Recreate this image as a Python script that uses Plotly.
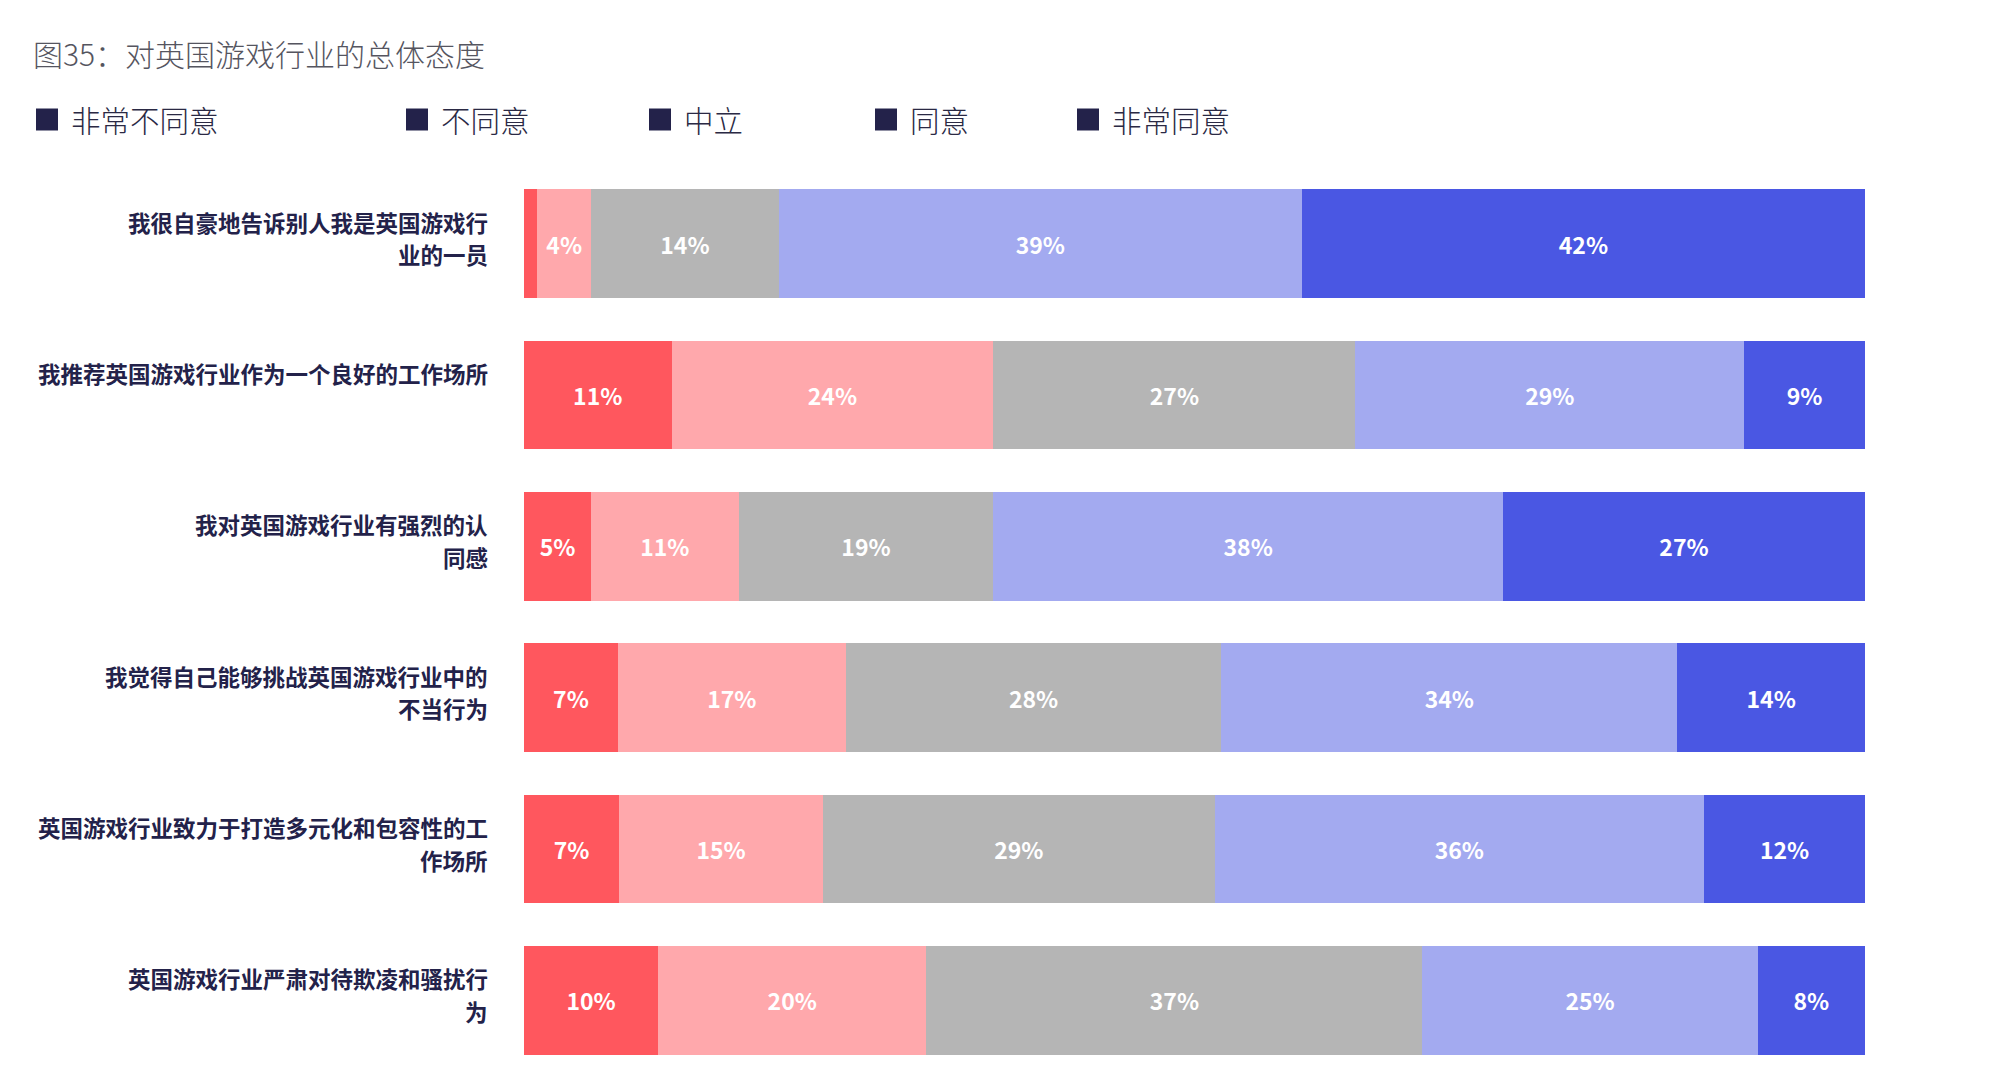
import plotly.graph_objects as go

# ---------------- data ----------------
categories = [
    "我很自豪地告诉别人我是英国游戏行\n业的一员",
    "我推荐英国游戏行业作为一个良好的工作场所",
    "我对英国游戏行业有强烈的认\n同感",
    "我觉得自己能够挑战英国游戏行业中的\n不当行为",
    "英国游戏行业致力于打造多元化和包容性的工\n作场所",
    "英国游戏行业严肃对待欺凌和骚扰行\n为",
]
series_names = ["非常不同意", "不同意", "中立", "同意", "非常同意"]
strongly_disagree = [1, 11, 5, 7, 7.1, 10]
disagree = [4, 24, 11, 17, 15.2, 20]
neutral = [14, 27, 19, 28, 29.2, 37]
agree = [39, 29, 38, 34, 36.5, 25]
strongly_agree = [42, 9, 27, 14, 12.0, 8]
series_values = [strongly_disagree, disagree, neutral, agree, strongly_agree]
title_text = "图35：对英国游戏行业的总体态度"

# ---------------- style ----------------
colors = ["#FF575E", "#FFA8AC", "#B5B5B5", "#A3AAF0", "#4A57E3"]
W, H = 2008, 1079
L, R, T, B = 524, 143, 168, 3
FONT = "Noto Sans CJK SC"
NAVY = "#23224A"


def px2x(px):
    return (px - L) / (W - L - R)


def py2y(py):
    return 1 - (py - T) / (H - T - B)


fig = go.Figure()
ys = list(range(len(categories)))
for name, vals, col in zip(series_names, series_values, colors):
    fig.add_trace(go.Bar(
        y=ys, x=vals, name=name, orientation="h",
        marker=dict(color=col, line=dict(width=0)),
        text=[f"{round(v)}%" if v >= 3 else "" for v in vals],
        textposition="inside", insidetextanchor="middle",
        textfont=dict(family=FONT, size=23, color="white", weight="bold"),
        hoverinfo="skip",
    ))

annotations = []
# category labels (per line)
for i, cat in enumerate(categories):
    lines = cat.split("\n")
    shifts = [22, -10.5]
    for j, line in enumerate(lines):
        annotations.append(dict(
            xref="paper", yref="y", x=px2x(489.5), y=i, yshift=shifts[j],
            xanchor="right", yanchor="middle", showarrow=False, text=line,
            font=dict(family=FONT, size=22.5, color=NAVY, weight="bold"),
        ))

# title
annotations.append(dict(
    xref="paper", yref="paper", x=px2x(31), y=py2y(53),
    xanchor="left", yanchor="middle", showarrow=False, text=title_text,
    font=dict(family=FONT, size=30, color="#55555F", weight=300),
))

# custom legend
legend_px = [36, 406, 649, 875, 1077]
shapes = []
for name, lx in zip(series_names, legend_px):
    shapes.append(dict(
        type="rect", xref="paper", yref="paper",
        x0=px2x(lx), x1=px2x(lx + 22), y0=py2y(130.5), y1=py2y(108.5),
        fillcolor=NAVY, line=dict(width=0),
    ))
    annotations.append(dict(
        xref="paper", yref="paper", x=px2x(lx + 33), y=py2y(119),
        xanchor="left", yanchor="middle", showarrow=False, text=name,
        font=dict(family=FONT, size=29.5, color="#2A2944", weight=300),
    ))

fig.update_layout(
    barmode="stack",
    bargap=0.282,
    width=W, height=H,
    margin=dict(l=L, r=R, t=T, b=B),
    paper_bgcolor="white", plot_bgcolor="white",
    showlegend=False,
    xaxis=dict(range=[0, 100], visible=False, fixedrange=True),
    yaxis=dict(range=[5.5, -0.5], visible=False, fixedrange=True),
    annotations=annotations,
    shapes=shapes,
    uniformtext=dict(mode=False),
)

fig.write_html("out.html")
